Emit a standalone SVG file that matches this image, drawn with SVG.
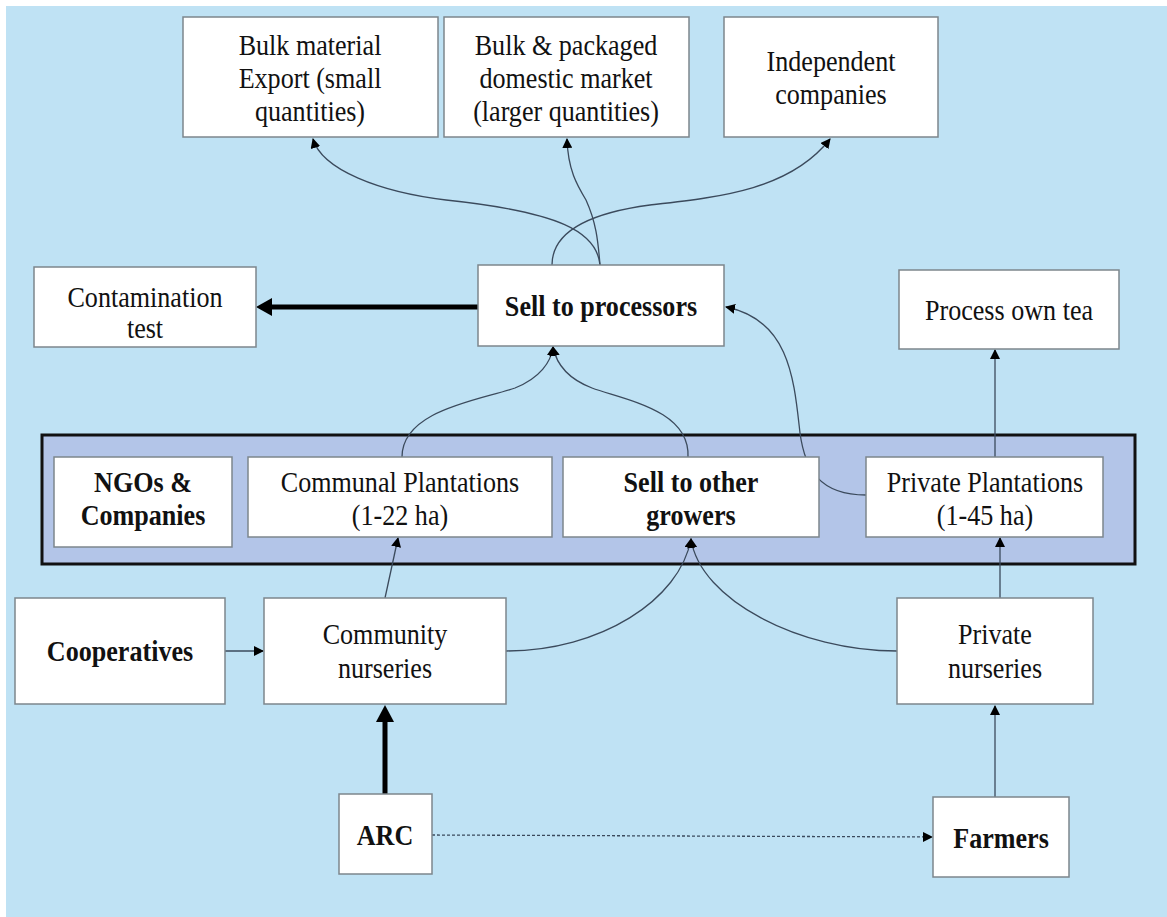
<svg xmlns="http://www.w3.org/2000/svg" width="1167" height="917" viewBox="0 0 1167 917">
<defs>
<style>
.box{fill:#ffffff;stroke:#7d868c;stroke-width:1.5}
.t{font-family:"Liberation Serif","Times New Roman",serif;font-size:29px;fill:#111;text-anchor:middle;transform-box:fill-box;transform-origin:center;transform:scaleX(0.9)}
.b{font-weight:bold}
.c{fill:none;stroke:#3b4a5c;stroke-width:1.3}
.thick{fill:none;stroke:#000;stroke-width:5}
</style>
<marker id="ah" viewBox="0 0 10 10" refX="9" refY="5" markerWidth="10" markerHeight="10" markerUnits="userSpaceOnUse" orient="auto">
<path d="M0,0 L10,5 L0,10 z" fill="#000"/>
</marker>
</defs>
<rect x="0" y="0" width="1167" height="917" fill="#ffffff"/>
<rect x="6" y="6" width="1161" height="911" fill="#bfe2f4"/>
<rect id="band" x="42" y="435" width="1093" height="129" fill="#b3c5e8" stroke="#111" stroke-width="3"/>

<g id="connectors">
<path class="c" d="M600,265 C597,232 560,212 446,200 C380,192 322,170 313,139" marker-end="url(#ah)"/>
<path class="c" d="M600,265 C598,240 596,222 586,200 C577,185 568,170 567,139" marker-end="url(#ah)"/>
<path class="c" d="M552,265 C552,238 575,215 650,205 C720,197 790,190 830,139" marker-end="url(#ah)"/>
<path class="thick" d="M478,307 L270,307"/>
<path d="M256,307 L272,298 L272,316 z" fill="#000"/>
<path class="c" d="M402,457 C402,410 480,400 515,388 C540,378 551,362 553,347" marker-end="url(#ah)"/>
<path class="c" d="M688,457 C690,410 625,400 592,388 C566,378 556,362 553,347" marker-end="url(#ah)"/>
<path class="c" d="M866,495 C820,495 805,470 800,433 C794,380 790,320 726,307" marker-end="url(#ah)"/>
<path class="c" d="M995,457 L995,350" marker-end="url(#ah)"/>
<path class="c" d="M385,598 L398,538" marker-end="url(#ah)"/>
<path class="c" d="M506,651 C600,651 680,600 691,539" marker-end="url(#ah)"/>
<path class="c" d="M897,651 C800,651 700,600 691,539" marker-end="url(#ah)"/>
<path class="c" d="M1000,598 L1000,538" marker-end="url(#ah)"/>
<path class="c" d="M225,651 L263,651" marker-end="url(#ah)"/>
<path class="thick" d="M385,794 L385,720"/>
<path d="M385,705 L376,722 L394,722 z" fill="#000"/>
<path class="c" d="M995,797 L995,706" marker-end="url(#ah)"/>
<path class="c" d="M432,835 L932,837" stroke-dasharray="3,2" marker-end="url(#ah)"/>
</g>

<g id="bulk-export"><rect class="box" x="183" y="17" width="255" height="120"/>
<text class="t" x="310" y="55">Bulk material</text><text class="t" x="310" y="88">Export (small</text><text class="t" x="310" y="121">quantities)</text></g>
<g id="bulk-domestic"><rect class="box" x="444" y="17" width="245" height="120"/>
<text class="t" x="566" y="55">Bulk &amp; packaged</text><text class="t" x="566" y="88">domestic market</text><text class="t" x="566" y="121">(larger quantities)</text></g>
<g id="independent"><rect class="box" x="724" y="17" width="214" height="120"/>
<text class="t" x="831" y="71">Independent</text><text class="t" x="831" y="104">companies</text></g>
<g id="contamination"><rect class="box" x="34" y="267" width="222" height="80"/>
<text class="t" x="145" y="307">Contamination</text><text class="t" x="145" y="338">test</text></g>
<g id="sell-processors"><rect class="box" x="478" y="265" width="246" height="81"/>
<text class="t b" x="601" y="316">Sell to processors</text></g>
<g id="process-own"><rect class="box" x="899" y="270" width="220" height="79"/>
<text class="t" x="1009" y="320">Process own tea</text></g>
<g id="ngos"><rect class="box" x="54" y="457" width="178" height="90"/>
<text class="t b" x="143" y="492">NGOs &amp;</text><text class="t b" x="143" y="525">Companies</text></g>
<g id="communal"><rect class="box" x="248" y="457" width="304" height="80"/>
<text class="t" x="400" y="492">Communal Plantations</text><text class="t" x="400" y="525">(1-22 ha)</text></g>
<g id="sell-growers"><rect class="box" x="563" y="457" width="256" height="80"/>
<text class="t b" x="691" y="492">Sell to other</text><text class="t b" x="691" y="525">growers</text></g>
<g id="private-plant"><rect class="box" x="866" y="457" width="237" height="80"/>
<text class="t" x="985" y="492">Private Plantations</text><text class="t" x="985" y="525">(1-45 ha)</text></g>
<g id="cooperatives"><rect class="box" x="15" y="598" width="210" height="106"/>
<text class="t b" x="120" y="661">Cooperatives</text></g>
<g id="community"><rect class="box" x="264" y="598" width="242" height="106"/>
<text class="t" x="385" y="644">Community</text><text class="t" x="385" y="678">nurseries</text></g>
<g id="private-nurs"><rect class="box" x="897" y="598" width="196" height="106"/>
<text class="t" x="995" y="644">Private</text><text class="t" x="995" y="678">nurseries</text></g>
<g id="arc"><rect class="box" x="339" y="794" width="93" height="80"/>
<text class="t b" x="385" y="845">ARC</text></g>
<g id="farmers"><rect class="box" x="933" y="797" width="136" height="80"/>
<text class="t b" x="1001" y="848">Farmers</text></g>
</svg>
